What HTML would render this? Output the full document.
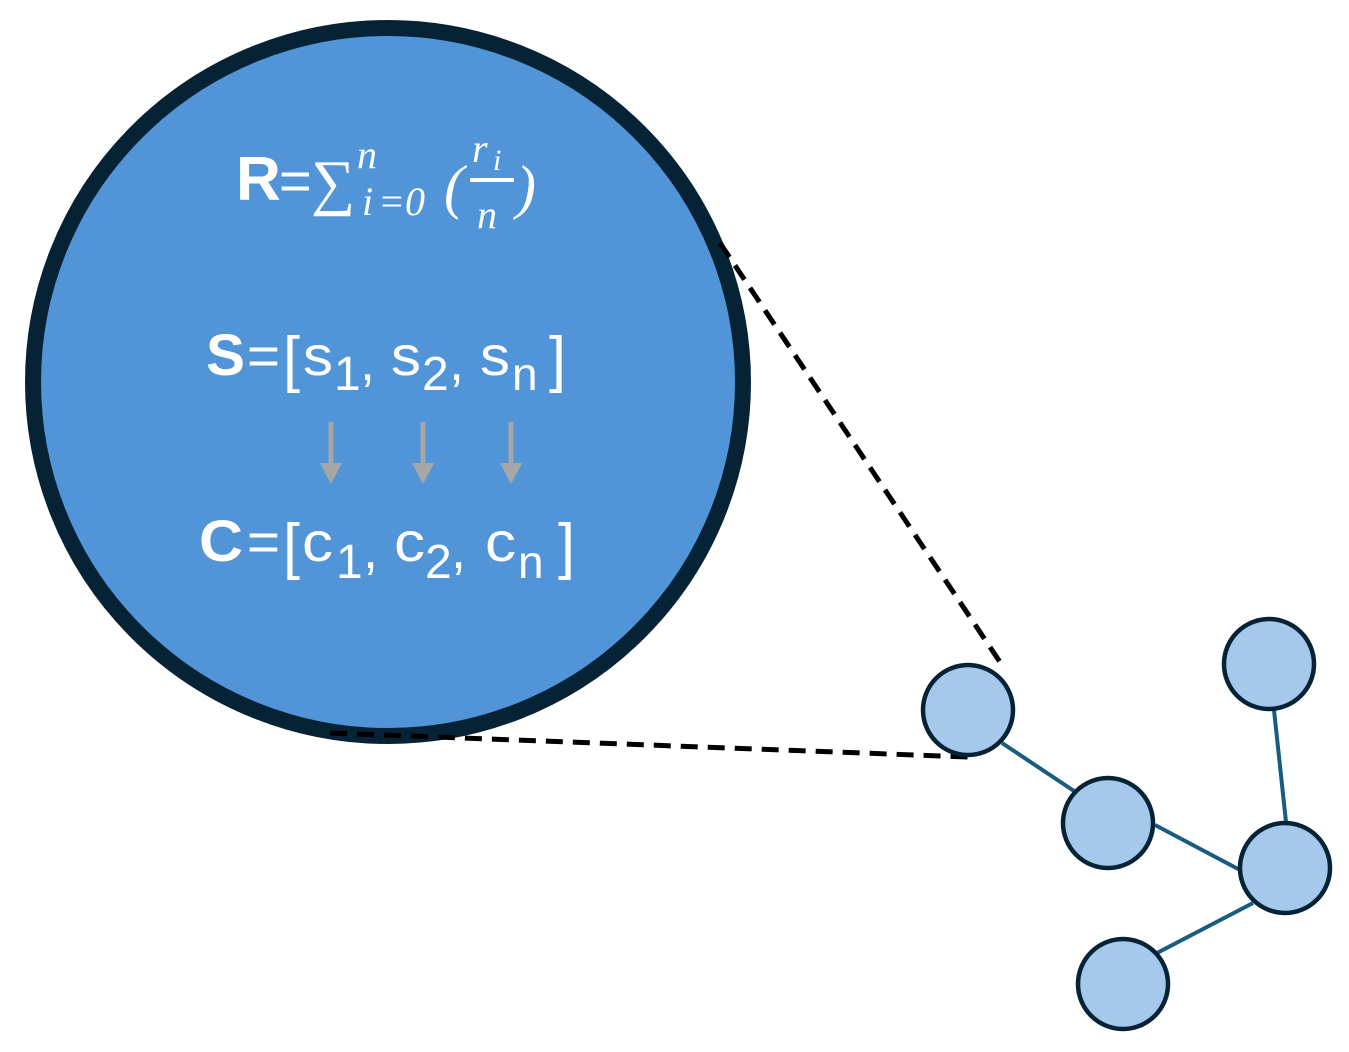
<!DOCTYPE html>
<html><head><meta charset="utf-8"><style>
html,body{margin:0;padding:0;background:#fff;}
svg{display:block;}
.sans{font-family:"Liberation Sans",sans-serif;fill:#fff;}
.ser{font-family:"Liberation Serif","DejaVu Serif",serif;fill:#fff;font-style:italic;}
</style></head><body>
<svg width="1349" height="1052" viewBox="0 0 1349 1052" xmlns="http://www.w3.org/2000/svg">
<ellipse cx="388" cy="382" rx="355" ry="354" fill="#5195d8" stroke="#062336" stroke-width="16"/>
<g stroke="#000" stroke-width="5" stroke-dasharray="17,10" fill="none">
<line x1="720" y1="243" x2="1000" y2="662"/>
<line x1="330" y1="733" x2="968" y2="757"/>
</g>
<g stroke="#1a5b80" stroke-width="4">
<line x1="1002" y1="743" x2="1077" y2="793"/>
<line x1="1155" y1="825" x2="1240" y2="870"/>
<line x1="1274" y1="710" x2="1286" y2="822"/>
<line x1="1253" y1="903" x2="1157" y2="953"/>
</g>
<g fill="#a6c9eb" stroke="#062336" stroke-width="4.5">
<circle cx="968" cy="710" r="45"/>
<circle cx="1269" cy="664" r="45"/>
<circle cx="1108" cy="823" r="45"/>
<circle cx="1285" cy="868" r="45"/>
<circle cx="1123" cy="984" r="45"/>
</g>
<!-- R formula -->
<text class="sans" x="236" y="200" font-size="62" font-weight="bold">R</text>
<text class="sans" x="279" y="200" font-size="56">=</text>
<text class="ser" x="311" y="203" font-size="62" font-style="normal">∑</text>
<text class="ser" x="357" y="168" font-size="40">n</text>
<text class="ser" x="362" y="215" font-size="40">i</text>
<text class="ser" x="378" y="215" font-size="40" font-style="normal">=0</text>
<text class="ser" x="444" y="207" font-size="60" font-style="normal">(</text>
<text class="ser" x="472" y="162" font-size="40">r</text>
<text class="ser" x="493" y="170" font-size="30">i</text>
<rect x="470" y="178" width="44" height="4" fill="#fff"/>
<text class="ser" x="477" y="228" font-size="40">n</text>
<text class="ser" x="516" y="207" font-size="60" font-style="normal">)</text>
<!-- S line -->
<g class="sans">
<text x="206" y="375" font-size="58" font-weight="bold" textLength="39" lengthAdjust="spacingAndGlyphs">S</text>
<text x="247" y="375" font-size="56" textLength="33" lengthAdjust="spacingAndGlyphs">=</text>
<text x="283" y="380" font-size="62" textLength="17" lengthAdjust="spacingAndGlyphs">[</text>
<text x="303" y="375" font-size="56" textLength="30" lengthAdjust="spacingAndGlyphs">s</text>
<text x="334" y="390" font-size="48">1</text>
<text x="360" y="380" font-size="54">,</text>
<text x="391" y="375" font-size="56" textLength="30" lengthAdjust="spacingAndGlyphs">s</text>
<text x="422" y="390" font-size="48">2</text>
<text x="449" y="380" font-size="54">,</text>
<text x="480" y="375" font-size="56" textLength="30" lengthAdjust="spacingAndGlyphs">s</text>
<text x="512" y="390" font-size="46">n</text>
<text x="549" y="380" font-size="62" textLength="17" lengthAdjust="spacingAndGlyphs">]</text>
</g>
<!-- arrows -->
<g stroke="#a6a6a6" stroke-width="5">
<line x1="331" y1="422" x2="331" y2="466"/>
<line x1="423" y1="422" x2="423" y2="466"/>
<line x1="511" y1="422" x2="511" y2="466"/>
</g>
<g fill="#a6a6a6">
<polygon points="320,463 342,463 331,484"/>
<polygon points="412,463 434,463 423,484"/>
<polygon points="500,463 522,463 511,484"/>
</g>
<!-- C line -->
<g class="sans">
<text x="199" y="561" font-size="58" font-weight="bold" textLength="44" lengthAdjust="spacingAndGlyphs">C</text>
<text x="247" y="561" font-size="56" textLength="33" lengthAdjust="spacingAndGlyphs">=</text>
<text x="283" y="567" font-size="62" textLength="17" lengthAdjust="spacingAndGlyphs">[</text>
<text x="302" y="561" font-size="56" textLength="31" lengthAdjust="spacingAndGlyphs">c</text>
<text x="336" y="578" font-size="48">1</text>
<text x="363" y="568" font-size="54">,</text>
<text x="394" y="561" font-size="56" textLength="31" lengthAdjust="spacingAndGlyphs">c</text>
<text x="425" y="578" font-size="48">2</text>
<text x="451" y="568" font-size="54">,</text>
<text x="485" y="561" font-size="56" textLength="31" lengthAdjust="spacingAndGlyphs">c</text>
<text x="518" y="578" font-size="46">n</text>
<text x="558" y="567" font-size="62" textLength="17" lengthAdjust="spacingAndGlyphs">]</text>
</g>
</svg>
</body></html>
